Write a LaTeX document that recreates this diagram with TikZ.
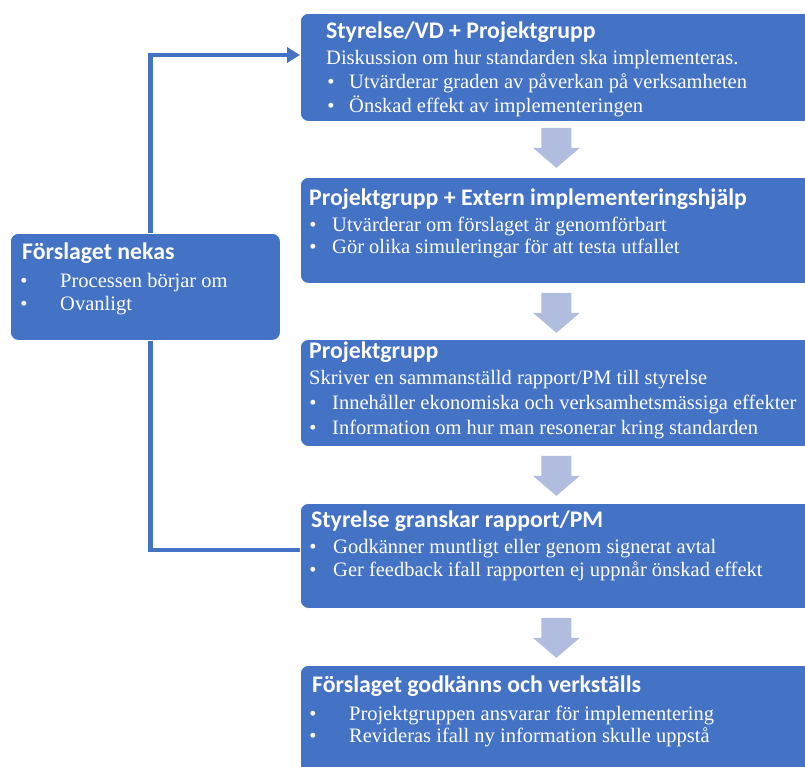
\documentclass[tikz,border=0pt]{standalone}
\usepackage{fontspec}
\setmainfont{Liberation Serif}
\newfontfamily\headfont{Carlito}
\usetikzlibrary{arrows.meta}
\definecolor{stageblue}{HTML}{4472C4}
\definecolor{flowtint}{HTML}{B0BDDF}
\begin{document}
\begin{tikzpicture}[x=1pt,y=-1pt,
  stage/.style={draw=white, line width=0.8pt, fill=stageblue, rounded corners=8pt,
                anchor=north west, inner sep=0pt},
  ttl/.style={anchor=base west, inner sep=0pt, text=white,
              font={\fontsize{23.8}{28}\headfont\bfseries}},
  txt/.style={anchor=base west, inner sep=0pt, text=white,
              font={\fontsize{20.5}{24}\selectfont}},
  bul/.style={anchor=base, inner sep=0pt, text=white,
              font={\fontsize{20.5}{24}\selectfont}},
  backline/.style={draw=stageblue, line width=4.5pt, line join=miter},
  flowfill/.style={fill=flowtint, draw=none},
  flowarrow/.pic={\fill[flowfill] (-15,0) -- (15,0) -- (15,20) -- (23.5,20)
                   -- (0,40) -- (-23.5,20) -- (-15,20) -- cycle;}
]
\useasboundingbox (0,0) rectangle (805,766);
\clip (0,0) rectangle (805,766);

% stage boxes (running past the right edge)
\node[stage, minimum width=512pt, minimum height=108pt] (b1) at (300,13) {};
\node[stage, minimum width=512pt, minimum height=106pt] (b2) at (300,177) {};
\node[stage, minimum width=512pt, minimum height=107pt] (b3) at (300,339) {};
\node[stage, minimum width=512pt, minimum height=105pt] (b4) at (300,503) {};
\node[stage, minimum width=512pt, minimum height=120pt] (b5) at (300,665) {};
\node[stage, minimum width=270pt, minimum height=107pt] (neg) at (10,233) {};

% block arrows between stages
\pic at ([yshift=-6pt]b1.south) {flowarrow};
\pic at ([yshift=-9pt]b2.south) {flowarrow};
\pic at ([yshift=-9pt]b3.south) {flowarrow};
\pic at ([yshift=-9pt]b4.south) {flowarrow};

% return path through the rejection box
\coordinate (t1) at (150.5,55);
\coordinate (t2) at (150.5,550);
\draw[backline, -{Triangle[length=13pt,width=15pt]}] (neg.north -| t1) -- (t1) -- (t1 -| b1.west);
\draw[backline] (neg.south -| t1) -- (t2) -- (t2 -| b4.west);

% stage 1
\node[ttl] (b1h) at (326,38) {Styrelse/VD + Projektgrupp};
\node[txt] (b1t) at (326,64) {Diskussion om hur standarden ska implementeras.};
\node[bul] (b1d1) at (331,88) {•};
\node[txt] (b1l1) at (349,88) {Utvärderar graden av påverkan på verksamheten};
\node[bul] (b1d2) at (331,112) {•};
\node[txt] (b1l2) at (349,112) {Önskad effekt av implementeringen};

% stage 2
\node[ttl] (b2h) at (309,205) {Projektgrupp + Extern implementeringshjälp};
\node[bul] (b2d1) at (313,231) {•};
\node[txt] (b2l1) at (332,231) {Utvärderar om förslaget är genomförbart};
\node[bul] (b2d2) at (313,253) {•};
\node[txt] (b2l2) at (332,253) {Gör olika simuleringar för att testa utfallet};

% stage 3
\node[ttl] (b3h) at (309,358) {Projektgrupp};
\node[txt] (b3t) at (309,384) {Skriver en sammanställd rapport/PM till styrelse};
\node[bul] (b3d1) at (313,409) {•};
\node[txt] (b3l1) at (332,409) {Innehåller ekonomiska och verksamhetsmässiga effekter};
\node[bul] (b3d2) at (313,434) {•};
\node[txt] (b3l2) at (332,434) {Information om hur man resonerar kring standarden};

% stage 4
\node[ttl] (b4h) at (311,527) {Styrelse granskar rapport/PM};
\node[bul] (b4d1) at (313,553) {•};
\node[txt] (b4l1) at (333,553) {Godkänner muntligt eller genom signerat avtal};
\node[bul] (b4d2) at (313,576) {•};
\node[txt] (b4l2) at (333,576) {Ger feedback ifall rapporten ej uppnår önskad effekt};

% stage 5
\node[ttl] (b5h) at (312,692) {Förslaget godkänns och verkställs};
\node[bul] (b5d1) at (313,720) {•};
\node[txt] (b5l1) at (349,720) {Projektgruppen ansvarar för implementering};
\node[bul] (b5d2) at (313,742) {•};
\node[txt] (b5l2) at (349,742) {Revideras ifall ny information skulle uppstå};

% rejection box
\node[ttl] (negh) at (22,259) {Förslaget nekas};
\node[bul] (negd1) at (24,287) {•};
\node[txt] (negl1) at (60,287) {Processen börjar om};
\node[bul] (negd2) at (24,310) {•};
\node[txt] (negl2) at (60,310) {Ovanligt};
\end{tikzpicture}
\end{document}
